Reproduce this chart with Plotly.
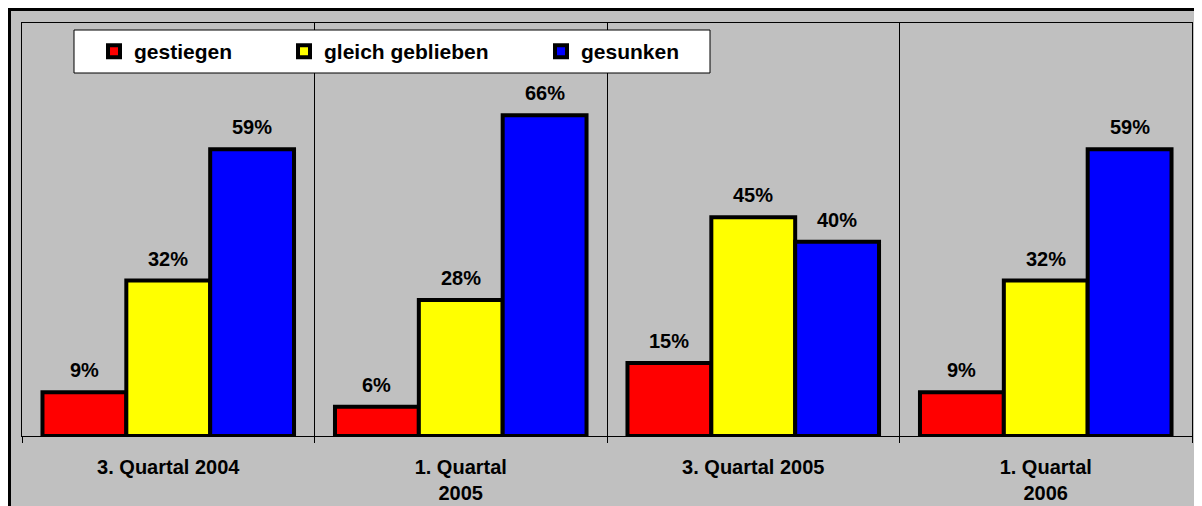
import plotly.graph_objects as go

categories = ["3. Quartal 2004", "1. Quartal<br>2005", "3. Quartal 2005", "1. Quartal<br>2006"]
series_names = ["gestiegen", "gleich geblieben", "gesunken"]
gestiegen = [9, 6, 15, 9]
gleich = [32, 28, 45, 32]
gesunken = [59, 66, 40, 59]
colors = ["#FF0000", "#FFFF00", "#0000FF"]

# page has an 8px body margin, so the figure sits at (8, 8) in the window
W, H = 1194, 498
L, R, T, B = 14, 10, 15, 70
pw, ph = W - L - R, H - T - B
BARGAP = 0.14

def mkfont(size):
    return dict(family="Arial, Liberation Sans, sans-serif", size=size, color="black", weight="bold")

label_font = mkfont(20)
tick_font = mkfont(20)
legend_font = mkfont(21)

def px2x(p):
    return (p - L) / pw

def py2y(p):
    return (H - B - p) / ph

legend_ids = ["legend", "legend2", "legend3"]
legend_x_px = [86, 276, 533]

fig = go.Figure()
all_vals = [gestiegen, gleich, gesunken]
for name, vals, col, lid in zip(series_names, all_vals, colors, legend_ids):
    fig.add_trace(go.Bar(
        x=categories, y=vals, name=name, legend=lid,
        marker=dict(color=col, line=dict(color="black", width=4)),
        cliponaxis=False,
    ))

# value labels above bars
bar_w = pw / len(categories) * (1 - BARGAP) / len(series_names)
for i, vals in enumerate(all_vals):
    for c, v in zip(categories, vals):
        fig.add_annotation(x=c, y=v, text=f"{v}%", showarrow=False,
                           xshift=(i - 1) * bar_w, yshift=22, yanchor="middle",
                           font=label_font)

# outer frame
fig.add_shape(type="rect", xref="paper", yref="paper",
              x0=px2x(0), x1=px2x(1230), y0=py2y(0), y1=py2y(540),
              line=dict(color="black", width=6), fillcolor="#C0C0C0", layer="below")
# legend box
fig.add_shape(type="rect", xref="paper", yref="paper",
              x0=px2x(66), x1=px2x(702), y0=py2y(22), y1=py2y(65),
              line=dict(color="black", width=1), fillcolor="white", layer="above")

legend_common = dict(orientation="h", y=py2y(43.5), xanchor="left", yanchor="middle",
                     bgcolor="rgba(0,0,0,0)", borderwidth=0, font=legend_font,
                     itemclick=False, itemdoubleclick=False)
layout_legends = {lid: dict(x=px2x(xp), **legend_common) for lid, xp in zip(legend_ids, legend_x_px)}

fig.update_layout(
    width=W, height=H,
    margin=dict(l=L, r=R, t=T, b=B),
    paper_bgcolor="white", plot_bgcolor="#C0C0C0",
    barmode="group", bargap=BARGAP, bargroupgap=0,
    showlegend=True,
    font=label_font,
    **layout_legends,
)
fig.update_xaxes(showline=True, linecolor="black", linewidth=1, mirror=True,
                 tickson="boundaries", ticks="outside", ticklen=6, tickcolor="black",
                 showgrid=True, gridcolor="black", gridwidth=1, automargin=False,
                 tickfont=tick_font, ticklabelstandoff=13)
fig.update_yaxes(range=[0, 85], showline=True, linecolor="black", linewidth=1, mirror=True,
                 showgrid=False, showticklabels=False, zeroline=False, ticks="")

fig.write_html("out.html")
